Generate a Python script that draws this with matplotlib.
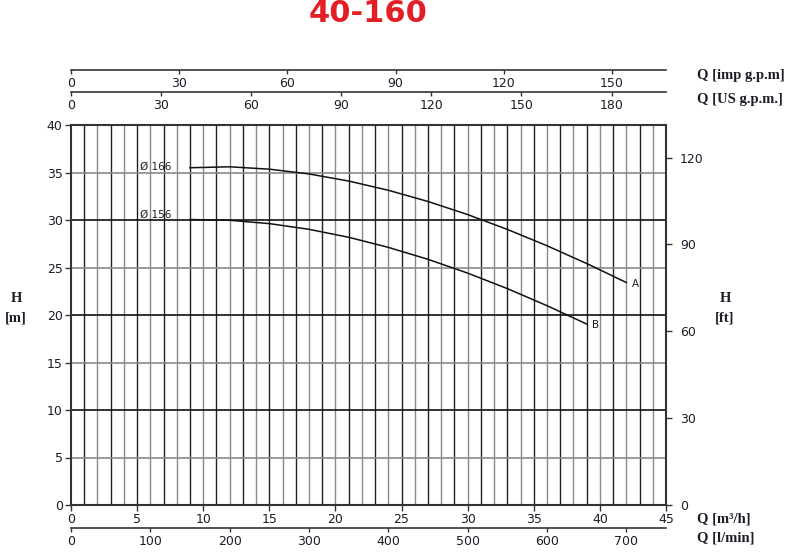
import matplotlib.pyplot as plt

# flow in m3/h, head in m
q_166 = [9, 12, 15, 18, 21, 24, 27, 30, 33, 36, 39, 42]
h_166 = [35.5, 35.6, 35.35, 34.85, 34.1, 33.13, 31.95, 30.57, 29.01, 27.29, 25.42, 23.42]
q_156 = [9, 12, 15, 18, 21, 24, 27, 30, 33, 36, 39]
h_156 = [30.05, 29.97, 29.62, 29.02, 28.18, 27.12, 25.86, 24.41, 22.78, 20.98, 19.05]

q_max = 45
h_max = 40
us_ticks = [0, 30, 60, 90, 120, 150, 180]
imp_ticks = [0, 30, 60, 90, 120, 150]
lmin_ticks = [0, 100, 200, 300, 400, 500, 600, 700]
ft_ticks = [0, 30, 60, 90, 120]

TO_US = 4.40287
TO_IMP = 3.66615
TO_LMIN = 16.6667
TO_FT = 3.28084

W, H = 809, 553
txt = "#1c1c2a"
serif = "Liberation Serif"

fig = plt.figure(figsize=(W / 100, H / 100), dpi=100)
left, right = 71 / W, 666 / W
bottom, top = 1 - 505 / H, 1 - 125 / H
ax = fig.add_axes([left, bottom, right - left, top - bottom])

# grid
for i in range(1, q_max):
    ax.axvline(i, color="#222222" if i % 2 else "#8a8a8a", lw=1.0, zorder=1)
for j in range(5, h_max, 5):
    ax.axhline(j, color="#111111" if j % 10 == 0 else "#8a8a8a", lw=1.2, zorder=1)

ax.plot(q_166, h_166, color="#111111", lw=1.1, zorder=3)
ax.plot(q_156, h_156, color="#111111", lw=1.1, zorder=3)
ax.text(5.2, 35.6, "Ø 166", fontsize=7.5, color=txt, va="center", ha="left")
ax.text(5.2, 30.5, "Ø 156", fontsize=7.5, color=txt, va="center", ha="left")
ax.text(42.4, 23.3, "A", fontsize=7.5, color=txt, va="center", ha="left")
ax.text(39.4, 18.9, "B", fontsize=7.5, color=txt, va="center", ha="left")

ax.set_xlim(0, q_max)
ax.set_ylim(0, h_max)
ax.set_xticks(range(0, q_max + 1, 5))
ax.set_yticks(range(0, h_max + 1, 5))
ax.tick_params(axis="both", direction="out", length=4, width=1, labelsize=9,
               labelcolor=txt, color="#333333", pad=2)
for s in ax.spines.values():
    s.set_color("#333333")
    s.set_linewidth(1.5)

# right axis in feet
axr = ax.twinx()
axr.set_ylim(0, h_max * TO_FT)
axr.set_yticks(ft_ticks)
axr.tick_params(axis="y", direction="out", length=4, width=1, labelsize=9,
                labelcolor=txt, color="#333333", pad=6)
for s in axr.spines.values():
    s.set_visible(False)


def scale_axis(y_px, factor, ticks):
    a = fig.add_axes([left, 1 - y_px / H, right - left, 0.0001])
    a.set_xlim(0, q_max * factor)
    a.set_xticks(ticks)
    a.set_yticks([])
    a.patch.set_visible(False)
    for name, s in a.spines.items():
        s.set_visible(name == "bottom")
    a.spines["bottom"].set_color("#333333")
    a.spines["bottom"].set_linewidth(1.2)
    a.tick_params(axis="x", direction="out", length=3, width=1, labelsize=9,
                  labelcolor=txt, color="#333333", pad=2)
    return a


scale_axis(70, TO_IMP, imp_ticks)
scale_axis(92, TO_US, us_ticks)
scale_axis(528, TO_LMIN, lmin_ticks)

lab = dict(fontsize=10.5, fontweight="bold", family=serif, color=txt)
fig.text(697 / W, 1 - 75 / H, "Q [imp g.p.m]", va="center", ha="left", **lab)
fig.text(697 / W, 1 - 100 / H, "Q [US g.p.m.]", va="center", ha="left", **lab)
fig.text(697 / W, 1 - 519 / H, "Q [m³/h]", va="center", ha="left", **lab)
fig.text(697 / W, 1 - 538 / H, "Q [l/min]", va="center", ha="left", **lab)
fig.text(16 / W, 1 - 298 / H, "H", va="center", ha="center", **lab)
fig.text(16 / W, 1 - 318 / H, "[m]", va="center", ha="center", **lab)
fig.text(725 / W, 1 - 298 / H, "H", va="center", ha="center", **lab)
fig.text(725 / W, 1 - 318 / H, "[ft]", va="center", ha="center", **lab)

fig.text(368 / W, 1 - 14 / H, "40-160", va="center", ha="center", fontsize=22,
         fontweight="heavy", family="DejaVu Sans", color="#e31e24")

fig.savefig("out.png", dpi=100)
